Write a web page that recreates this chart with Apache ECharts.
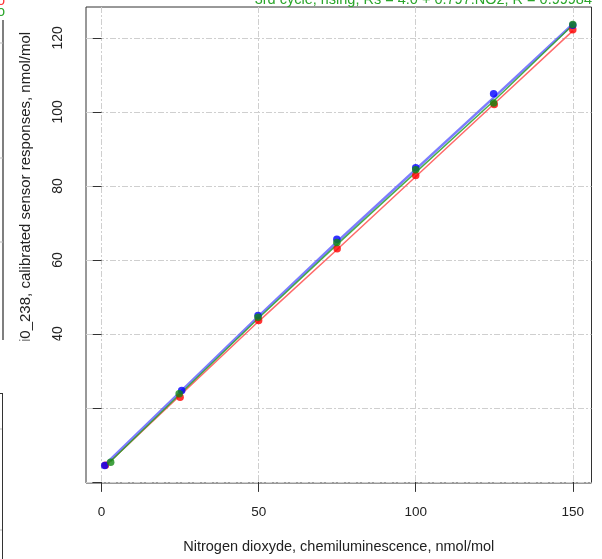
<!DOCTYPE html>
<html>
<head>
<meta charset="utf-8">
<script src="https://cdn.jsdelivr.net/npm/echarts@6/dist/echarts.min.js"></script>
<style>
  html, body { margin: 0; padding: 0; background: #ffffff; }
  #chart { width: 602px; height: 559px; }
</style>
</head>
<body>
<div id="chart"></div>
<script>
// Axis ticks and labels
const xTicks = [0, 50, 100, 150];
const yTicks = [0, 20, 40, 60, 80, 100, 120];
const yLabelled = [40, 60, 80, 100, 120];

// Calibration points, nmol/mol (reference NO2 vs. calibrated sensor response)
const redX   = [1.2, 25.0, 50.0, 75.0, 100.0, 125.0, 150.0];
const redY   = [4.5, 22.9, 43.6, 63.0, 82.8, 102.0, 122.2];
const blueX  = [1.0, 25.5, 49.8, 74.9, 100.0, 124.8, 150.0];
const blueY  = [4.4, 24.7, 45.0, 65.6, 84.9, 104.9, 123.4];
const greenX = [2.9, 24.7, 49.8, 74.9, 100.0, 124.8, 150.0];
const greenY = [5.3, 23.8, 44.5, 64.7, 84.4, 102.4, 123.6];

// Response traces for each cycle
const redLineX   = [1.2, 50, 75, 125, 150];
const redLineY   = [4.3, 43.4, 62.8, 102.2, 121.9];
const blueLineX  = [1.0, 50, 75, 125, 150];
const blueLineY  = [4.6, 44.8, 64.9, 104.0, 123.7];
const greenLineX = [2.9, 50, 75, 125, 150];
const greenLineY = [5.6, 44.3, 64.2, 103.1, 123.5];

const xTitle = 'Nitrogen dioxyde, chemiluminescence, nmol/mol';
const yTitle = 'i0_238, calibrated sensor responses, nmol/mol';
const fitText = '3rd cycle, rising, Rs = 4.0 + 0.797.NO2, R = 0.99984';

const zip = (xs, ys) => xs.map((x, i) => [x, ys[i]]);

const FONT = 'Liberation Sans, Arial, sans-serif';
const gridLine = { show: true, lineStyle: { color: '#cfcfcf', width: 1, type: [6, 2, 2, 2] } };

const lineSeries = (name, xs, ys, color, width) => ({
  name, type: 'line', data: zip(xs, ys), symbol: 'none', silent: true,
  lineStyle: { color, width }, z: 2
});
const pointSeries = (name, xs, ys, color) => ({
  name, type: 'scatter', data: zip(xs, ys), symbol: 'circle', symbolSize: 7.5,
  itemStyle: { color }, z: 3
});

const chart = echarts.init(document.getElementById('chart'), null, { renderer: 'canvas' });
chart.setOption({
  animation: false,
  backgroundColor: '#ffffff',
  grid: {
    left: 86, right: 10.5, top: 7, bottom: 76,
    show: true, borderColor: '#333333', borderWidth: 1, backgroundColor: 'transparent'
  },
  xAxis: {
    type: 'value', min: -4.96, max: 155.96,
    axisLine: { show: false },
    axisTick: { show: true, customValues: xTicks, length: 10, lineStyle: { color: '#333333' } },
    axisLabel: { customValues: xTicks, margin: 22, color: '#222222', fontSize: 13.5, fontFamily: FONT },
    splitLine: gridLine,
    name: xTitle, nameLocation: 'middle', nameGap: 56,
    nameTextStyle: { color: '#222222', fontSize: 14.5, fontFamily: FONT }
  },
  yAxis: {
    type: 'value', min: -0.3, max: 128.36,
    axisLine: { show: false },
    axisTick: { show: true, customValues: yTicks, length: 9, lineStyle: { color: '#333333' } },
    axisLabel: { customValues: yLabelled, rotate: 90, margin: 21, color: '#222222', fontSize: 14, fontFamily: FONT },
    splitLine: gridLine
  },
  series: [
    lineSeries('cycle 1 trace', redLineX, redLineY, 'rgba(255,80,80,0.85)', 1.5),
    lineSeries('cycle 2 trace', blueLineX, blueLineY, 'rgba(70,70,255,0.7)', 2.5),
    lineSeries('cycle 3 trace', greenLineX, greenLineY, 'rgba(40,160,40,0.85)', 1.5),
    pointSeries('cycle 1', redX, redY, '#ff0000'),
    pointSeries('cycle 2', blueX, blueY, '#0000ff'),
    pointSeries('cycle 3', greenX, greenY, '#138a13')
  ],
  graphic: [
    // y axis title, reading bottom to top
    {
      type: 'text', x: 25.5, y: 342, rotation: Math.PI / 2, z: 10,
      style: { text: yTitle, fill: '#222222', font: '15px ' + FONT, textAlign: 'left', textVerticalAlign: 'middle' }
    },
    // lower-left area kept blank below the title
    { type: 'rect', shape: { x: 0, y: 340.5, width: 74, height: 219 }, style: { fill: '#ffffff' }, z: 11 },
    // fit summary line above the frame
    {
      type: 'text', x: 592, y: -0.5, z: 10,
      style: { text: fitText, fill: '#2aa52a', font: '14.5px ' + FONT, textAlign: 'right', textVerticalAlign: 'middle' }
    },
    // neighbouring panel edges at the far left
    {
      type: 'text', x: 5, y: 1, z: 12,
      style: { text: 'o', fill: '#ff3333', font: '14.5px ' + FONT, textAlign: 'right', textVerticalAlign: 'middle' }
    },
    {
      type: 'text', x: 5, y: 12, z: 12,
      style: { text: 'o', fill: '#2aa52a', font: '14.5px ' + FONT, textAlign: 'right', textVerticalAlign: 'middle' }
    },
    { type: 'line', shape: { x1: 3, y1: 20, x2: 3, y2: 340 }, style: { stroke: '#555555', lineWidth: 1.5 }, z: 12 },
    { type: 'line', shape: { x1: 0, y1: 43, x2: 3, y2: 43 }, style: { stroke: '#bbbbbb', lineWidth: 1 }, z: 12 },
    { type: 'line', shape: { x1: 0, y1: 158, x2: 3, y2: 158 }, style: { stroke: '#bbbbbb', lineWidth: 1 }, z: 12 },
    { type: 'line', shape: { x1: 0, y1: 242, x2: 3, y2: 242 }, style: { stroke: '#bbbbbb', lineWidth: 1 }, z: 12 },
    { type: 'line', shape: { x1: 0, y1: 393.5, x2: 3, y2: 393.5 }, style: { stroke: '#333333', lineWidth: 1 }, z: 12 },
    { type: 'line', shape: { x1: 2.5, y1: 393, x2: 2.5, y2: 559 }, style: { stroke: '#333333', lineWidth: 1 }, z: 12 },
    { type: 'line', shape: { x1: 0, y1: 429, x2: 2, y2: 429 }, style: { stroke: '#bbbbbb', lineWidth: 1 }, z: 12 },
    { type: 'line', shape: { x1: 0, y1: 530, x2: 2, y2: 530 }, style: { stroke: '#bbbbbb', lineWidth: 1 }, z: 12 }
  ]
});
</script>
</body>
</html>
